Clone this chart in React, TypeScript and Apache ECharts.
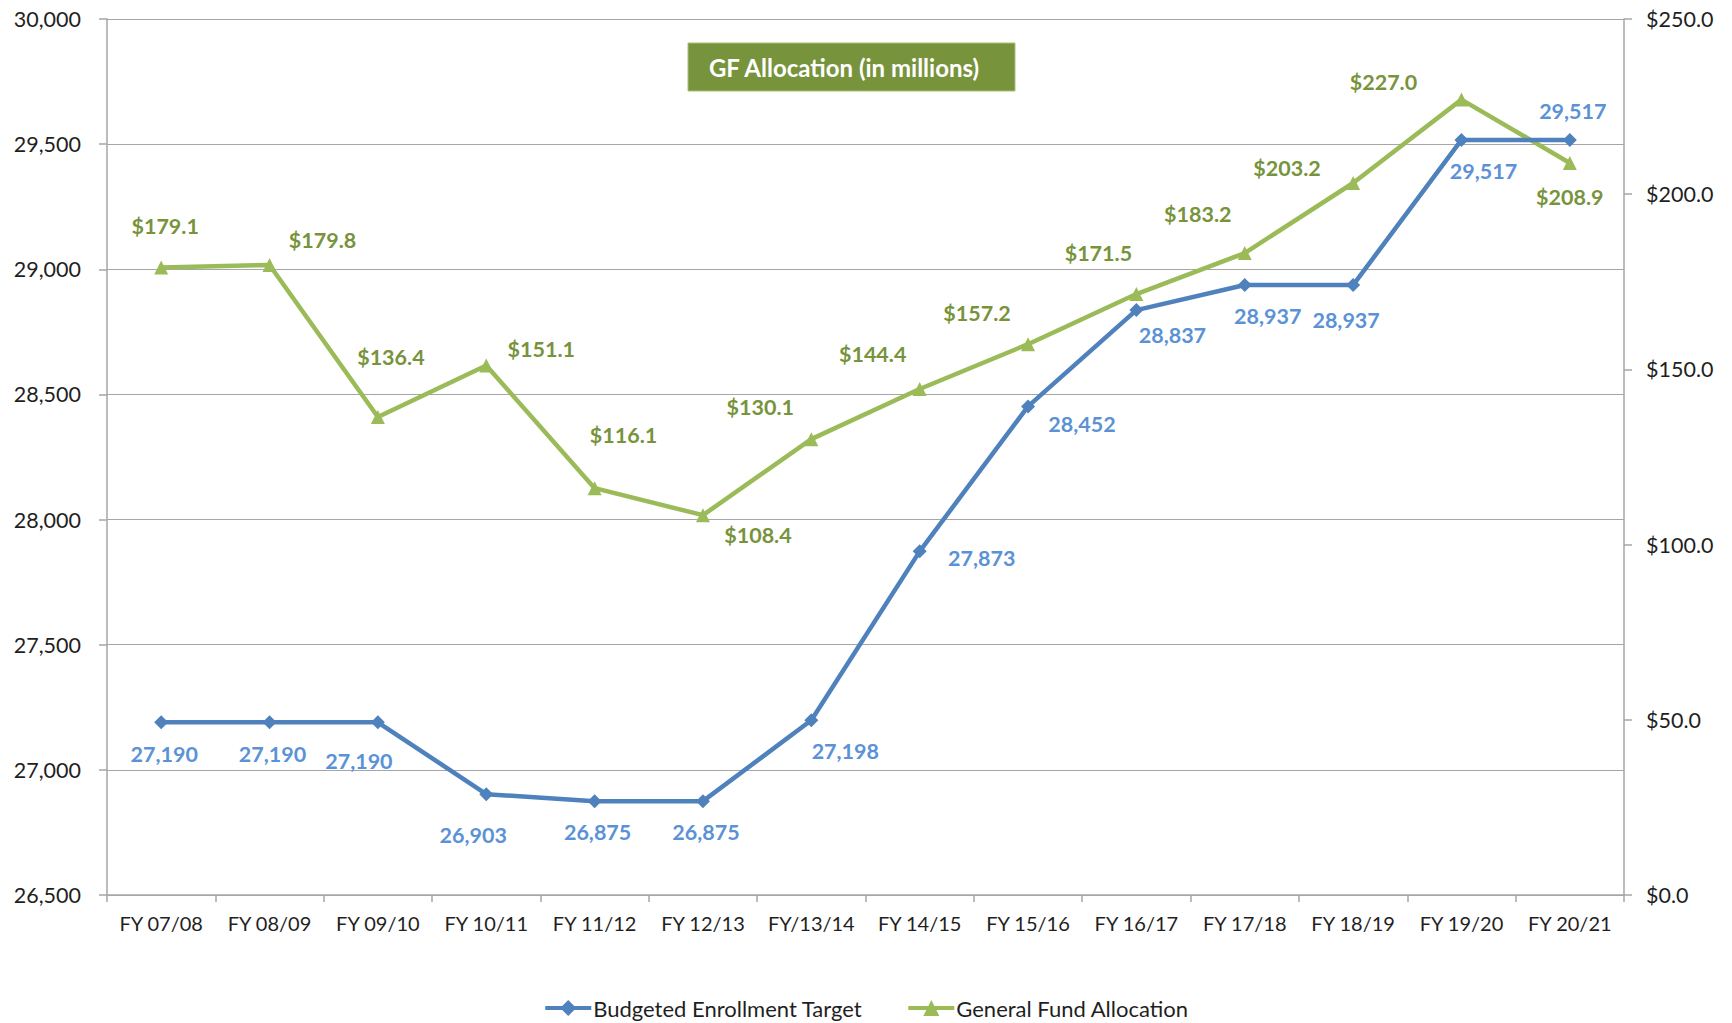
import React, { useEffect, useRef } from "react";
import * as echarts from "echarts";

const categories = [
  "FY 07/08", "FY 08/09", "FY 09/10", "FY 10/11", "FY 11/12", "FY 12/13", "FY/13/14",
  "FY 14/15", "FY 15/16", "FY 16/17", "FY 17/18", "FY 18/19", "FY 19/20", "FY 20/21",
];
const enrollment = [27190, 27190, 27190, 26903, 26875, 26875, 27198, 27873, 28452, 28837, 28937, 28937, 29517, 29517];
const allocation = [179.1, 179.8, 136.4, 151.1, 116.1, 108.4, 130.1, 144.4, 157.2, 171.5, 183.2, 203.2, 227.0, 208.9];
const leftTicks = { min: 26500, max: 30000, interval: 500 };
const rightTicks = { min: 0, max: 250, interval: 50 };

// label offsets (style only)
const blueOffsets = [
  [3, 32], [3, 32], [-19, 39], [-13, 41], [3, 31], [3, 31], [34, 31],
  [62, 7], [54, 18], [36, 25], [23, 31], [-7, 35], [22, 31], [3, -29],
];
const greenOffsets = [
  [4, -41], [53, -25], [13, -60], [55, -17], [29, -53], [55, 20], [-51, -32],
  [-47, -35], [-51, -31], [-38, -41], [-47, -39], [-66, -15], [-78, -18], [0, 34],
];

const FONT = "Lato";
const BLUE = "#4F81BD";
const BLUE_LABEL = "#5B92D6";
const GREEN = "#9BBB59";
const GREEN_LABEL = "#77933C";
const AXIS = "#A6A6A6";
const TEXT = "#1F1F1F";

export default function App() {
  const ref = useRef<HTMLDivElement>(null);
  useEffect(() => {
    const chart = echarts.init(ref.current!, null, { renderer: "svg" });
    chart.setOption({
      animation: false,
      textStyle: { fontFamily: FONT },
      grid: { left: 107, right: 108, top: 19, bottom: 128 },
      graphic: [
        {
          type: "rect",
          shape: { x: 688, y: 43, width: 327, height: 48 },
          style: { fill: "#77933C", stroke: "#A9C07A", lineWidth: 1 },
        },
        {
          type: "text",
          x: 844,
          y: 67,
          style: {
            text: "GF Allocation (in millions)",
            fill: "#FFFFFF",
            font: `bold 24px ${FONT}`,
            align: "center",
            verticalAlign: "middle",
          },
        },
      ],
      legend: {
        top: 997,
        left: "center",
        padding: 0,
        itemGap: 44,
        itemWidth: 46,
        itemHeight: 20,
        lineStyle: { width: 4 },
        textStyle: { fontFamily: FONT, fontSize: 22, color: TEXT, padding: [0, 0, 0, -3] },
        data: ["Budgeted Enrollment Target", "General Fund Allocation"],
      },
      xAxis: {
        type: "category",
        data: categories,
        boundaryGap: true,
        axisLine: { lineStyle: { color: AXIS, width: 1.5 } },
        axisTick: { show: true, interval: 0, length: 7, lineStyle: { color: AXIS, width: 1.5 } },
        axisLabel: { color: TEXT, fontSize: 20, fontFamily: FONT, margin: 18, interval: 0 },
      },
      yAxis: [
        {
          type: "value",
          min: leftTicks.min,
          max: leftTicks.max,
          interval: leftTicks.interval,
          axisLine: { show: true, lineStyle: { color: AXIS, width: 1.5 } },
          axisTick: { show: true, length: 8, lineStyle: { color: AXIS, width: 1.5 } },
          splitLine: { lineStyle: { color: "#A6A6A6", width: 1.2 } },
          axisLabel: {
            color: TEXT,
            fontSize: 21.5,
            fontFamily: FONT,
            margin: 26,
            formatter: (v: number) => v.toLocaleString("en-US"),
          },
        },
        {
          type: "value",
          min: rightTicks.min,
          max: rightTicks.max,
          interval: rightTicks.interval,
          position: "right",
          axisLine: { show: true, lineStyle: { color: AXIS, width: 1.5 } },
          axisTick: { show: true, length: 8, lineStyle: { color: AXIS, width: 1.5 } },
          splitLine: { show: false },
          axisLabel: {
            color: TEXT,
            fontSize: 21.5,
            fontFamily: FONT,
            margin: 22,
            formatter: (v: number) => "$" + v.toFixed(1),
          },
        },
      ],
      series: [
        {
          name: "Budgeted Enrollment Target",
          type: "line",
          yAxisIndex: 0,
          symbol: "diamond",
          symbolSize: 14,
          lineStyle: { color: BLUE, width: 4.5 },
          itemStyle: { color: BLUE },
          z: 3,
          data: enrollment.map((v, i) => ({
            value: v,
            label: { offset: blueOffsets[i] },
          })),
          label: {
            show: true,
            position: "inside",
            align: "center",
            verticalAlign: "middle",
            color: BLUE_LABEL,
            fontWeight: "bold",
            fontSize: 21.5,
            fontFamily: FONT,
            formatter: (p: any) => Number(p.value).toLocaleString("en-US"),
          },
        },
        {
          name: "General Fund Allocation",
          type: "line",
          yAxisIndex: 1,
          symbol: "triangle",
          symbolSize: 14,
          lineStyle: { color: GREEN, width: 4.5 },
          itemStyle: { color: GREEN },
          z: 2,
          data: allocation.map((v, i) => ({
            value: v,
            label: { offset: greenOffsets[i] },
          })),
          label: {
            show: true,
            position: "inside",
            align: "center",
            verticalAlign: "middle",
            color: GREEN_LABEL,
            fontWeight: "bold",
            fontSize: 21.5,
            fontFamily: FONT,
            formatter: (p: any) => "$" + Number(p.value).toFixed(1),
          },
        },
      ],
    });
    return () => chart.dispose();
  }, []);
  return (
    <div
      ref={ref}
      style={{ position: "fixed", left: 0, top: 0, width: 1732, height: 1023, background: "#fff" }}
    />
  );
}
